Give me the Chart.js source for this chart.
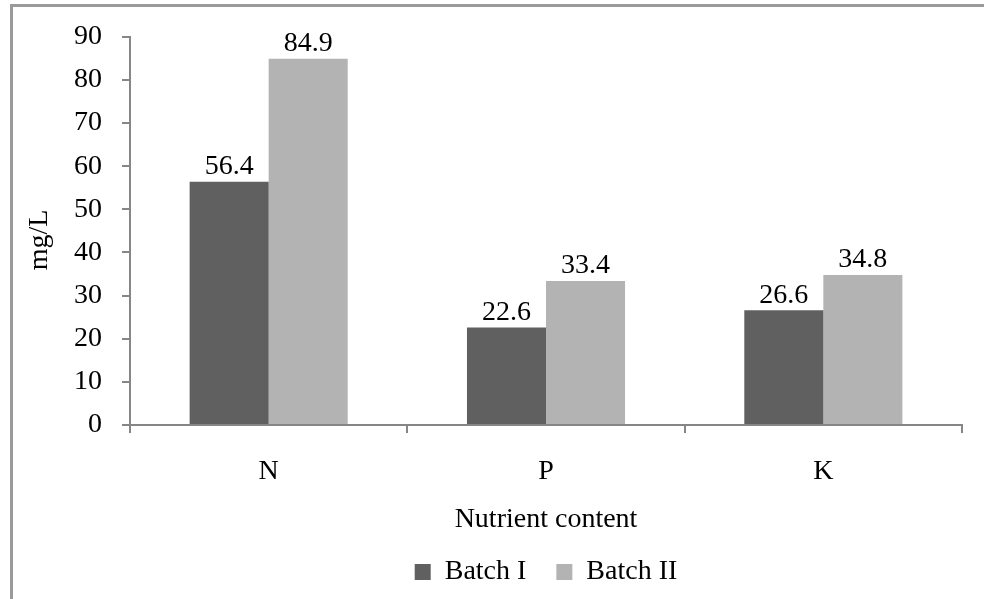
<!DOCTYPE html>
<html>
<head>
<meta charset="utf-8">
<script src="https://cdn.jsdelivr.net/npm/chart.js@4/dist/chart.umd.min.js"></script>
<style>
  html, body { margin: 0; padding: 0; background: #ffffff; }
  canvas { display: block; }
</style>
</head>
<body>
<canvas id="chart" width="984" height="599"></canvas>
<script>
// Nutrient content per batch (mg/L)
const categories = ['N', 'P', 'K'];
const batchI = [56.4, 22.6, 26.6];
const batchII = [84.9, 33.4, 34.8];
const seriesNames = ['Batch I', 'Batch II'];
const yTicksMax = 90;
const yTickStep = 10;
const yTitle = 'mg/L';
const xTitle = 'Nutrient content';

const FONT = '"Liberation Serif", "Times New Roman", serif';
const FONT_SIZE = 28;
const AXIS_GRAY = '#868686';

// White background and the outer frame (top and left edges)
const framePlugin = {
  id: 'frame',
  beforeDraw(chart) {
    const ctx = chart.ctx;
    ctx.save();
    ctx.fillStyle = '#ffffff';
    ctx.fillRect(0, 0, chart.width, chart.height);
    ctx.strokeStyle = '#9a9a9a';
    ctx.lineWidth = 3;
    ctx.beginPath();
    ctx.moveTo(11.5, chart.height);
    ctx.lineTo(11.5, 5.5);
    ctx.lineTo(chart.width, 5.5);
    ctx.stroke();
    ctx.restore();
  }
};

// Rotated y-axis title
const yTitlePlugin = {
  id: 'yTitle',
  afterDraw(chart) {
    const ctx = chart.ctx;
    ctx.save();
    ctx.font = FONT_SIZE + 'px ' + FONT;
    ctx.fillStyle = '#000000';
    ctx.textAlign = 'center';
    ctx.textBaseline = 'middle';
    ctx.translate(40, 240);
    ctx.rotate(-Math.PI / 2);
    ctx.fillText(yTitle, 0, 0);
    ctx.restore();
  }
};

// Value labels above each bar
const valueLabels = {
  id: 'valueLabels',
  afterDatasetsDraw(chart) {
    const ctx = chart.ctx;
    ctx.save();
    ctx.font = FONT_SIZE + 'px ' + FONT;
    ctx.fillStyle = '#000000';
    ctx.textAlign = 'center';
    ctx.textBaseline = 'middle';
    chart.data.datasets.forEach((ds, i) => {
      const meta = chart.getDatasetMeta(i);
      meta.data.forEach((bar, j) => {
        ctx.fillText(ds.data[j].toFixed(1), bar.x, bar.y - 15);
      });
    });
    ctx.restore();
  }
};

new Chart(document.getElementById('chart'), {
  type: 'bar',
  data: {
    labels: categories,
    datasets: [
      { label: seriesNames[0], data: batchI, backgroundColor: '#606060', borderWidth: 0 },
      { label: seriesNames[1], data: batchII, backgroundColor: '#b3b3b3', borderWidth: 0 }
    ]
  },
  options: {
    responsive: false,
    animation: false,
    devicePixelRatio: 1,
    layout: { padding: { top: 36, right: 22, left: 0, bottom: 3 } },
    datasets: { bar: { barPercentage: 1.0, categoryPercentage: 0.57 } },
    plugins: {
      tooltip: { enabled: false },
      legend: {
        position: 'bottom',
        fullSize: false,
        labels: {
          font: { family: FONT, size: FONT_SIZE },
          color: '#000000',
          boxWidth: 16,
          boxHeight: 16,
          padding: 30
        }
      }
    },
    scales: {
      x: {
        grid: {
          display: true,
          drawOnChartArea: false,
          drawTicks: true,
          tickLength: 8,
          color: AXIS_GRAY,
          lineWidth: 2,
          offset: true
        },
        border: { display: true, color: AXIS_GRAY, width: 2 },
        ticks: {
          font: { family: FONT, size: FONT_SIZE },
          color: '#000000',
          padding: 22
        },
        title: {
          display: true,
          text: xTitle,
          font: { family: FONT, size: FONT_SIZE },
          color: '#000000',
          padding: { top: 0, bottom: -8 }
        },
        afterFit(scale) { scale.height = 103; }
      },
      y: {
        min: 0,
        max: yTicksMax,
        grid: {
          display: true,
          drawOnChartArea: false,
          drawTicks: true,
          tickLength: 8,
          color: AXIS_GRAY,
          lineWidth: 2
        },
        border: { display: true, color: AXIS_GRAY, width: 2 },
        ticks: {
          stepSize: yTickStep,
          font: { family: FONT, size: FONT_SIZE },
          color: '#000000',
          padding: 20
        },
        afterFit(scale) { scale.width = 130; }
      }
    }
  },
  plugins: [framePlugin, yTitlePlugin, valueLabels]
});
</script>
</body>
</html>
